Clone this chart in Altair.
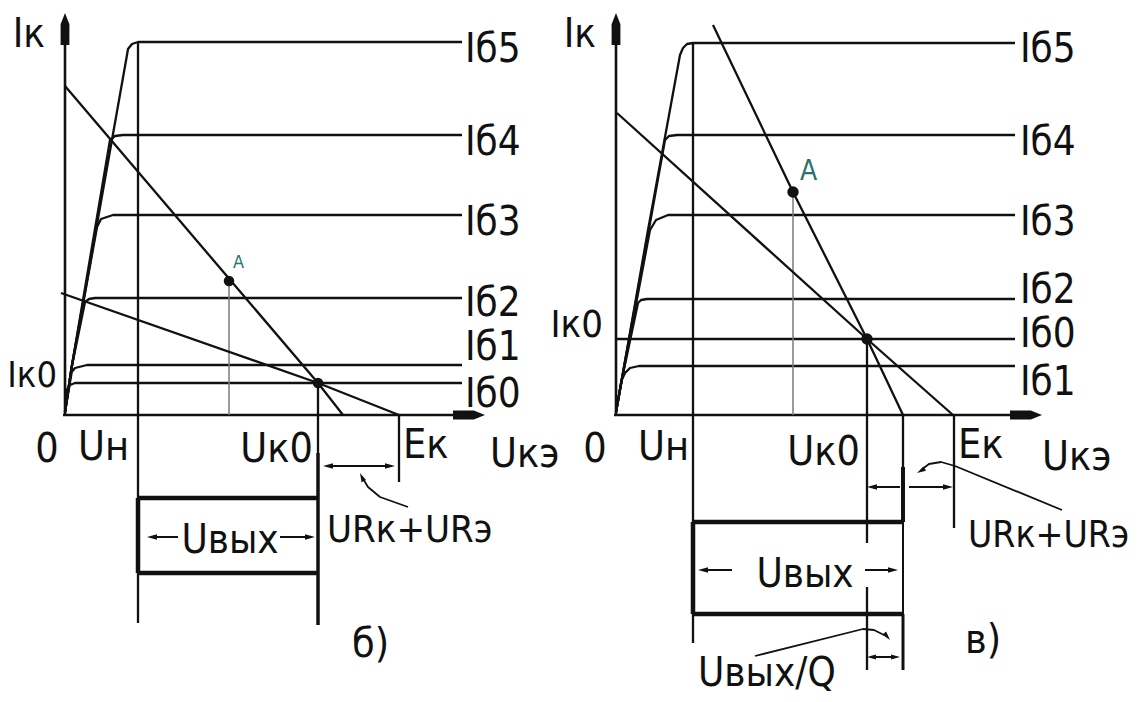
import altair as alt
import pandas as pd

# ---------------- layout (canvas) ----------------
W, H = 1128, 686
X_DOMAIN = [-57, 1071]
Y_DOMAIN = [-279, 407]
PANEL_SHIFT = {"б": 0, "в": 551}
FONT = "Liberation Sans Narrow, DejaVu Sans Condensed, Liberation Sans, sans-serif"
INK = "#111111"
TEAL = "#2e7070"
GREY = "#7a7a7a"
FS = 41          # main label size
LW = 2.3         # main line width

# ---------------- values ----------------
# diagram units: x = Uкэ, y = Iк ; origin at the axes crossing of each panel
# panel б) output characteristics (Uкэ, Iк) per base current
b_Ib5 = [(0, 3), (6.7, 48), (62, 360), (63, 366), (67, 371), (73, 373), (397, 373)]
b_Ib4 = [(0, 3), (6.7, 48), (45, 275), (50, 279), (58, 280), (397, 280)]
b_Ib3 = [(0, 3), (6.7, 48), (32, 188), (36, 196), (48, 200), (397, 200)]
b_Ib2 = [(0, 3), (6.7, 48), (20, 113), (24, 116), (30, 117), (397, 117)]
b_Ib1 = [(0, 3), (6.7, 43), (10, 47), (22, 50), (397, 50)]
b_Ib0 = [(0, 3), (1.7, 25), (5, 30), (10, 32), (397, 32)]
b_load_ac = [(0, 329), (253, 32), (278, 0)]
b_load_dc = [(-4, 122), (253, 32), (334, 0)]
b_Q = (253, 32)
b_A = (164, 134)
b_Un, b_Uk0, b_Ek = 73, 253, 334

# panel в) output characteristics
v_Ib5 = [(0, 3), (5.7, 35), (32, 185), (64, 360), (67, 367), (71, 371), (77, 372), (399, 372)]
v_Ib4 = [(0, 3), (5.7, 35), (49, 275), (53, 279), (61, 280), (399, 280)]
v_Ib3 = [(0, 3), (5.7, 35), (34, 185), (40, 195), (52, 200), (399, 200)]
v_Ib2 = [(0, 3), (5.7, 35), (22, 112), (25, 115), (31, 116), (399, 116)]
v_Ib1 = [(0, 3), (5.7, 35), (9, 42), (14, 47), (23, 49), (399, 49)]
v_Ib0 = [(0, 76), (399, 76)]
v_load_ac = [(97, 390), (177, 223), (251, 76), (287, 0)]
v_load_dc = [(1, 302), (251, 76), (337, 0)]
v_Q = (251, 76)
v_A = (177, 223)
v_Un, v_Uk0, v_Ux, v_Ek = 77, 251, 287, 338

# labels
curve_labels_b = ["Iб5", "Iб4", "Iб3", "Iб2", "Iб1", "Iб0"]
curve_labels_v = ["Iб5", "Iб4", "Iб3", "Iб2", "Iб0", "Iб1"]

# ---------------- build tables ----------------
line_rows = []


def add_line(panel, sid, pts, sw=LW, col=INK):
    for k, (u, i) in enumerate(pts):
        line_rows.append(dict(x=u + PANEL_SHIFT[panel], y=i, sid=f"{panel}-{sid}",
                              ord=k, sw=sw, col=col))


# --- panel б
for name, pts in zip(curve_labels_b, [b_Ib5, b_Ib4, b_Ib3, b_Ib2, b_Ib1, b_Ib0]):
    add_line("б", name, pts)
add_line("б", "yaxis", [(0, 0), (0, 380)], 2.6)
add_line("б", "xaxis", [(-2, 0), (400, 0)], 2.6)
add_line("б", "Un", [(b_Un, 373), (b_Un, -208)])
add_line("б", "Un_box", [(b_Un, -83), (b_Un, -158)], 4.5)
add_line("б", "Uk0_a", [(b_Uk0, b_Q[1]), (b_Uk0, -38)])
add_line("б", "Uk0_b", [(b_Uk0, -38), (b_Uk0, -210)], 3.5)
add_line("б", "Avert", [(b_A[0], b_A[1]), (b_A[0], 0)], 1.5, GREY)
add_line("б", "Ek", [(b_Ek, 0), (b_Ek, -67)])
add_line("б", "load_ac", b_load_ac)
add_line("б", "load_dc", b_load_dc)
add_line("б", "box_top", [(b_Un, -83), (b_Uk0, -83)], 4.5)
add_line("б", "box_bot", [(b_Un, -158), (b_Uk0, -158)], 4.5)
add_line("б", "uv_l", [(86, -122), (113, -122)], 2.0)
add_line("б", "uv_r", [(215, -122), (246, -122)], 2.0)
add_line("б", "ur", [(262, -51), (326, -51)], 2.0)
add_line("б", "lead", [(297, -62), (303, -72), (315, -82), (343, -92)], 1.8)

# --- panel в
for name, pts in zip(curve_labels_v, [v_Ib5, v_Ib4, v_Ib3, v_Ib2, v_Ib0, v_Ib1]):
    add_line("в", name, pts)
add_line("в", "yaxis", [(0, 0), (0, 380)], 2.6)
add_line("в", "xaxis", [(-2, 0), (406, 0)], 2.6)
add_line("в", "Un", [(v_Un, 372), (v_Un, -228)])
add_line("в", "Un_box", [(v_Un, -107), (v_Un, -199)], 4.5)
add_line("в", "Uk0_a", [(v_Uk0, v_Q[1]), (v_Uk0, -128)])
add_line("в", "Uk0_b", [(v_Uk0, -172), (v_Uk0, -255)])
add_line("в", "Ux_a", [(v_Ux, 0), (v_Ux, -52)])
add_line("в", "Ux_b", [(v_Ux, -52), (v_Ux, -107)], 4.0)
add_line("в", "Ux_c", [(v_Ux, -107), (v_Ux, -199)], 2.0)
add_line("в", "Ux_d", [(v_Ux, -199), (v_Ux, -255)], 3.0)
add_line("в", "Ek", [(v_Ek, 0), (v_Ek, -113)])
add_line("в", "Avert", [(v_A[0], v_A[1]), (v_A[0], 0)], 1.5, GREY)
add_line("в", "load_ac", v_load_ac)
add_line("в", "load_dc", v_load_dc)
add_line("в", "box_top", [(v_Un, -107), (v_Ux, -107)], 4.5)
add_line("в", "box_bot", [(v_Un, -199), (v_Ux, -199)], 4.5)
add_line("в", "ar_l", [(255, -72), (284, -72)], 2.0)
add_line("в", "ar_r", [(293, -72), (333, -72)], 2.0)
add_line("в", "lead_ur", [(446, -95), (339, -51), (325, -47), (313, -49), (305, -55)], 1.8)
add_line("в", "uv_l", [(86, -155), (116, -155)], 2.0)
add_line("в", "uv_r", [(249, -155), (278, -155)], 2.0)
add_line("в", "small", [(255, -242), (280, -242)], 2.0)
add_line("в", "lead_q", [(139, -241), (247, -214), (258, -215), (268, -220)], 1.8)

df_lines = pd.DataFrame(line_rows)

# dots (operating points)
dot_rows = [
    dict(x=b_Q[0], y=b_Q[1], sz=110), dict(x=b_A[0], y=b_A[1], sz=110),
    dict(x=v_Q[0] + PANEL_SHIFT["в"], y=v_Q[1], sz=130),
    dict(x=v_A[0] + PANEL_SHIFT["в"], y=v_A[1], sz=130),
]
df_dots = pd.DataFrame(dot_rows)


# arrow heads (tip position, direction in degrees clockwise from +x)
def ah(panel, u, i, ang, sz=100):
    return dict(x=u + PANEL_SHIFT[panel], y=i, ang=ang, sz=sz)


small_heads = pd.DataFrame([
    ah("б", 82, -122, 180), ah("б", 250, -122, 0),
    ah("б", 258, -51, 180), ah("б", 330, -51, 0),
    ah("б", 295, -58, 245, 80),
    ah("в", 251, -72, 180), ah("в", 337, -72, 0),
    ah("в", 301, -58, 150, 80),
    ah("в", 82, -155, 180), ah("в", 282, -155, 0),
    ah("в", 251, -242, 180, 80), ah("в", 284, -242, 0, 80),
    ah("в", 274, -225, 50, 80),
])
axis_heads = pd.DataFrame([
    ah("б", 0, 402, 270, 256), ah("б", 420, 0, 0, 256),
    ah("в", 0, 402, 270, 256), ah("в", 426, 0, 0, 256),
])

# texts: panel, text, x, baseline y, align, font size, colour
text_rows = []


def tx(panel, t, u, i, al, fs=FS, col=INK):
    text_rows.append(dict(x=u + PANEL_SHIFT[panel], y=i, t=t, al=al, fs=fs, col=col))


tx("б", "Iк", -20, 368, "right", 40)
for lab, base in zip(curve_labels_b, [353, 260, 180, 99, 55, 8]):
    tx("б", lab, 400, base, "left", 40)
tx("б", "Iк0", -8, 28, "right", 36)
tx("б", "0", -18, -47, "center")
tx("б", "Uн", 13, -45, "left")
tx("б", "Uк0", 248, -47, "right")
tx("б", "Eк", 338, -43, "left")
tx("б", "Uкэ", 425, -52, "left")
tx("б", "A", 168, 147, "left", 18, TEAL)
tx("б", "Uвых", 165, -138, "center", 40)
tx("б", "URк+URэ", 262, -127, "left", 38)
tx("б", "б)", 287, -242, "left")

tx("в", "Iк", -20, 368, "right", 40)
for lab, base in zip(curve_labels_v, [353, 260, 180, 112, 68, 20]):
    tx("в", lab, 404, base, "left", 40)
tx("в", "Iк0", -13, 78, "right", 38)
tx("в", "0", -21, -47, "center")
tx("в", "Uн", 22, -45, "left")
tx("в", "Uк0", 244, -50, "right")
tx("в", "Eк", 342, -43, "left")
tx("в", "Uкэ", 426, -55, "left")
tx("в", "A", 184, 235, "left", 28, TEAL)
tx("в", "Uвых", 189, -172, "center", 40)
tx("в", "URк+URэ", 352, -132, "left", 37)
tx("в", "Uвых/Q", 82, -271, "left", 40)
tx("в", "в)", 349, -238, "left")

df_text = pd.DataFrame(text_rows)

# ---------------- chart ----------------
xs = alt.Scale(domain=X_DOMAIN, nice=False, zero=False)
ys = alt.Scale(domain=Y_DOMAIN, nice=False, zero=False)
X = alt.X("x:Q", scale=xs, axis=None)
Y = alt.Y("y:Q", scale=ys, axis=None)

lines = alt.Chart(df_lines).mark_line(strokeCap="butt", strokeJoin="round").encode(
    x=X, y=Y, detail="sid:N", order="ord:Q",
    strokeWidth=alt.StrokeWidth("sw:Q", scale=None),
    color=alt.Color("col:N", scale=None),
)

dots = alt.Chart(df_dots).mark_circle(color=INK, opacity=1).encode(
    x=X, y=Y, size=alt.Size("sz:Q", scale=None))

SMALL_HEAD = "M0,0 L-2,-0.55 L-2,0.55 Z"
AXIS_HEAD = "M0,0 L-1.4,-0.55 L-4,-0.55 L-4,0.55 L-1.4,0.55 Z"

heads = alt.Chart(small_heads).mark_point(
    shape=SMALL_HEAD, filled=True, color=INK, opacity=1, strokeWidth=0).encode(
    x=X, y=Y, angle=alt.Angle("ang:Q", scale=None), size=alt.Size("sz:Q", scale=None))

aheads = alt.Chart(axis_heads).mark_point(
    shape=AXIS_HEAD, filled=True, color=INK, opacity=1, strokeWidth=0).encode(
    x=X, y=Y, angle=alt.Angle("ang:Q", scale=None), size=alt.Size("sz:Q", scale=None))

text_layers = []
for al in ["left", "center", "right"]:
    sub = df_text[df_text.al == al]
    text_layers.append(
        alt.Chart(sub).mark_text(align=al, baseline="alphabetic", font=FONT).encode(
            x=X, y=Y, text="t:N",
            size=alt.Size("fs:Q", scale=None),
            color=alt.Color("col:N", scale=None),
        )
    )

chart = alt.layer(lines, dots, heads, aheads, *text_layers).properties(
    width=W, height=H, padding=0,
    autosize=alt.AutoSizeParams(type="none"),
    background="white",
).configure_view(stroke=None)

chart.save("out.html", embed_options={"renderer": "svg", "actions": False})
